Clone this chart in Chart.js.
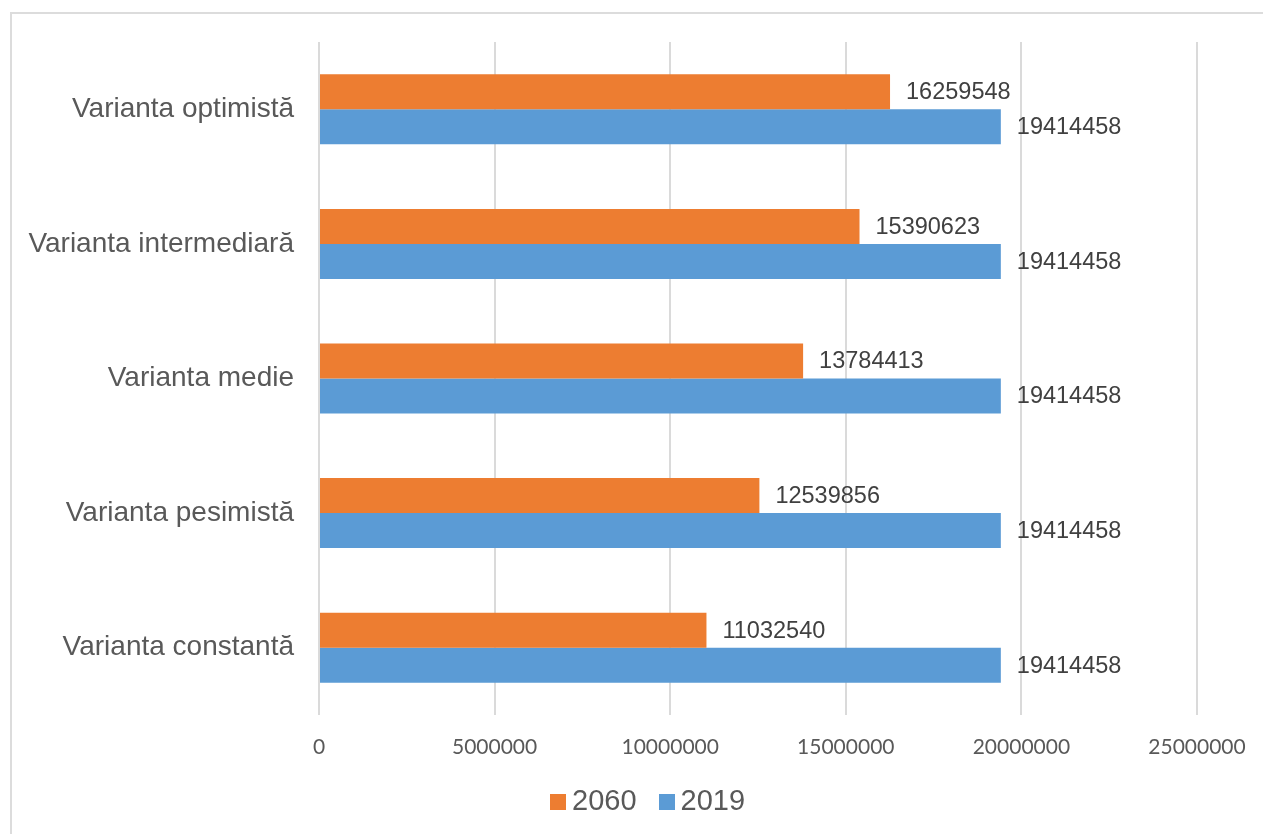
<!DOCTYPE html>
<html>
<head>
<meta charset="utf-8">
<script src="https://cdn.jsdelivr.net/npm/chart.js@4"></script>
<style>
    html, body { margin: 0; padding: 0; background: #fff; }
    #wrap { position: relative; width: 1263px; height: 834px; overflow: hidden; }
    #frame { position: absolute; left: 10px; top: 12px; width: 1300px; height: 900px; border: 2px solid #dcdcdc; }
    #popChart { position: absolute; left: 0; top: 0; }
    #legend {
        position: absolute; left: 550px; top: 784px;
        display: flex; align-items: center;
        font: 29px/33px "Liberation Sans", Arial, sans-serif; color: #595959;
    }
    #legend .item { display: flex; align-items: center; margin-right: 22px; }
    #legend .box { width: 16px; height: 16px; margin-right: 6px; margin-top: 2px; }
</style>
</head>
<body>
<div id="wrap">
    <div id="frame"></div>
    <canvas id="popChart" width="1263" height="834"></canvas>
    <div id="legend"></div>
</div>
<script>
// Populația pe variante de prognoză
const variante = ['Varianta optimistă', 'Varianta intermediară', 'Varianta medie', 'Varianta pesimistă', 'Varianta constantă'];
const pop2060 = [16259548, 15390623, 13784413, 12539856, 11032540];
const pop2019 = [19414458, 19414458, 19414458, 19414458, 19414458];
const xTicks = [0, 5000000, 10000000, 15000000, 20000000, 25000000];

// valorile scrise în dreapta fiecărei bare
const barLabels = {
    id: 'barLabels',
    afterDatasetsDraw(chart) {
        const ctx = chart.ctx;
        ctx.save();
        ctx.font = '23.5px "Liberation Sans", Arial, sans-serif';
        ctx.fillStyle = '#404040';
        ctx.textAlign = 'left';
        ctx.textBaseline = 'middle';
        chart.data.datasets.forEach((ds, i) => {
            chart.getDatasetMeta(i).data.forEach((bar, j) => {
                ctx.fillText(String(ds.data[j]), bar.x + 16, bar.y + 1);
            });
        });
        ctx.restore();
    }
};

// legenda sub grafic, construită din seturile de date
const htmlLegend = {
    id: 'htmlLegend',
    afterUpdate(chart) {
        const box = document.getElementById('legend');
        box.innerHTML = '';
        chart.data.datasets.forEach(ds => {
            const item = document.createElement('div');
            item.className = 'item';
            const sw = document.createElement('span');
            sw.className = 'box';
            sw.style.background = ds.backgroundColor;
            const txt = document.createElement('span');
            txt.textContent = ds.label;
            item.appendChild(sw);
            item.appendChild(txt);
            box.appendChild(item);
        });
    }
};

document.addEventListener('DOMContentLoaded', () => {
    const ctx = document.getElementById('popChart');
    new Chart(ctx.getContext('2d'), {
        type: 'bar',
        data: {
            labels: variante,
            datasets: [
                { label: '2060', data: pop2060, backgroundColor: '#ED7D31' },
                { label: '2019', data: pop2019, backgroundColor: '#5B9BD5' }
            ]
        },
        options: {
            indexAxis: 'y',
            responsive: false,
            animation: false,
            categoryPercentage: 0.52,
            barPercentage: 1,
            layout: { padding: { top: 42, right: 66, bottom: 0, left: 0 } },
            scales: {
                x: {
                    min: 0,
                    max: 25000000,
                    afterBuildTicks: (scale) => { scale.ticks = xTicks.map(v => ({ value: v })); },
                    grid: { color: '#dadada', lineWidth: 2, drawTicks: false },
                    border: { display: false },
                    ticks: {
                        padding: 20,
                        color: '#595959',
                        font: { family: 'Lato, sans-serif', size: 21 },
                        callback: (v) => String(v)
                    },
                    afterFit: (scale) => {
                        scale.height = 119;
                        scale.paddingLeft = 0;
                        scale.paddingRight = 0;
                    }
                },
                y: {
                    grid: { display: false },
                    border: { display: false },
                    ticks: {
                        padding: 17,
                        color: '#595959',
                        font: { family: '"Liberation Sans", Arial, sans-serif', size: 28 }
                    },
                    afterFit: (scale) => { scale.width = 319; }
                }
            },
            plugins: {
                legend: { display: false },
                tooltip: { enabled: false }
            }
        },
        plugins: [barLabels, htmlLegend]
    });
});
</script>
</body>
</html>
